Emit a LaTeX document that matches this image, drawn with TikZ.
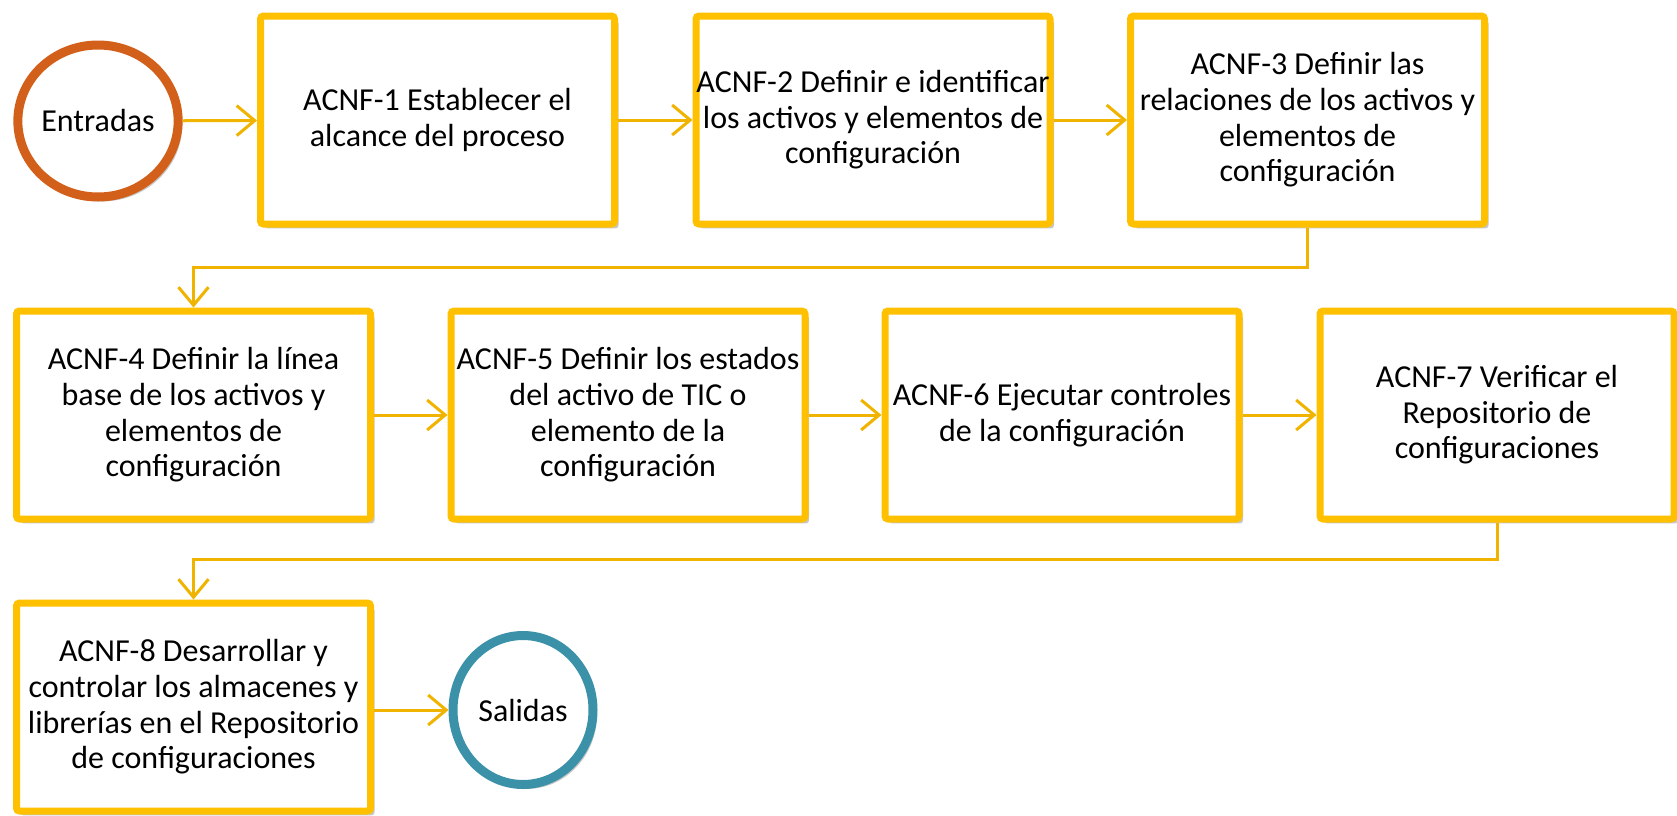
\documentclass[tikz,border=0pt]{standalone}
\usepackage{fontspec}
\setmainfont{Carlito}
\usetikzlibrary{arrows.meta,shadows,shapes.geometric}
\definecolor{boxy}{HTML}{FFC000}
\definecolor{liney}{HTML}{F0B400}
\definecolor{entr}{HTML}{D2601A}
\definecolor{sal}{HTML}{3A91A8}
\begin{document}
\begin{tikzpicture}[x=0.5pt,y=-0.5pt,
  txt/.style={align=center,font=\fontsize{16}{17.8}\selectfont},
  shd/.style={drop shadow={shadow xshift=2pt,shadow yshift=-2.2pt,opacity=0.22,fill=black}},
  stepbox/.style={txt,draw=boxy,line width=3.5pt,rounded corners=1.5pt,fill=white,minimum width=177pt,minimum height=104pt,inner sep=0pt,shd},
  endpt/.style={txt,ellipse,fill=white,line width=4.5pt,inner sep=0pt,shd},
  conn/.style={draw=liney,line width=1.5pt,-{Straight Barb[length=9pt,width=15pt]}}
]
\useasboundingbox (0,0) rectangle (1677,815);
\node[endpt,draw=entr,minimum width=79pt,minimum height=76pt] (ent) at (98,121) {Entradas};
\node[stepbox] (b1) at (437.5,120) {ACNF-1 Establecer el\\alcance del proceso};
\node[stepbox] (b2) at (873,120) {ACNF-2 Definir e identificar\\los activos y elementos de\\configuración};
\node[stepbox] (b3) at (1307.5,120) {ACNF-3 Definir las\\relaciones de los activos y\\elementos de\\configuración};
\node[stepbox] (b4) at (193.5,415) {ACNF-4 Definir la línea\\base de los activos y\\elementos de\\configuración};
\node[stepbox] (b5) at (628,415) {ACNF-5 Definir los estados\\del activo de TIC o\\elemento de la\\configuración};
\node[stepbox] (b6) at (1062,415) {ACNF-6 Ejecutar controles\\de la configuración};
\node[stepbox] (b7) at (1497,415) {ACNF-7 Verificar el\\Repositorio de\\configuraciones};
\node[stepbox] (b8) at (193.5,707) {ACNF-8 Desarrollar y\\controlar los almacenes y\\librerías en el Repositorio\\de configuraciones};
\node[endpt,draw=sal,minimum width=70pt,minimum height=74.5pt] (sal) at (523,710) {Salidas};
\coordinate (r1) at (0,267);
\coordinate (r2) at (0,559);
\draw[conn] (ent) -- (b1);
\draw[conn] (b1) -- (b2);
\draw[conn] (b2) -- (b3);
\draw[conn] (b3.south) -- (b3.south |- r1) -- (b4.north |- r1) -- (b4.north);
\draw[conn] (b4) -- (b5);
\draw[conn] (b5) -- (b6);
\draw[conn] (b6) -- (b7);
\draw[conn] (b7.south) -- (b7.south |- r2) -- (b8.north |- r2) -- (b8.north);
\draw[conn] (b8.east |- sal) -- (sal);
\end{tikzpicture}
\end{document}
